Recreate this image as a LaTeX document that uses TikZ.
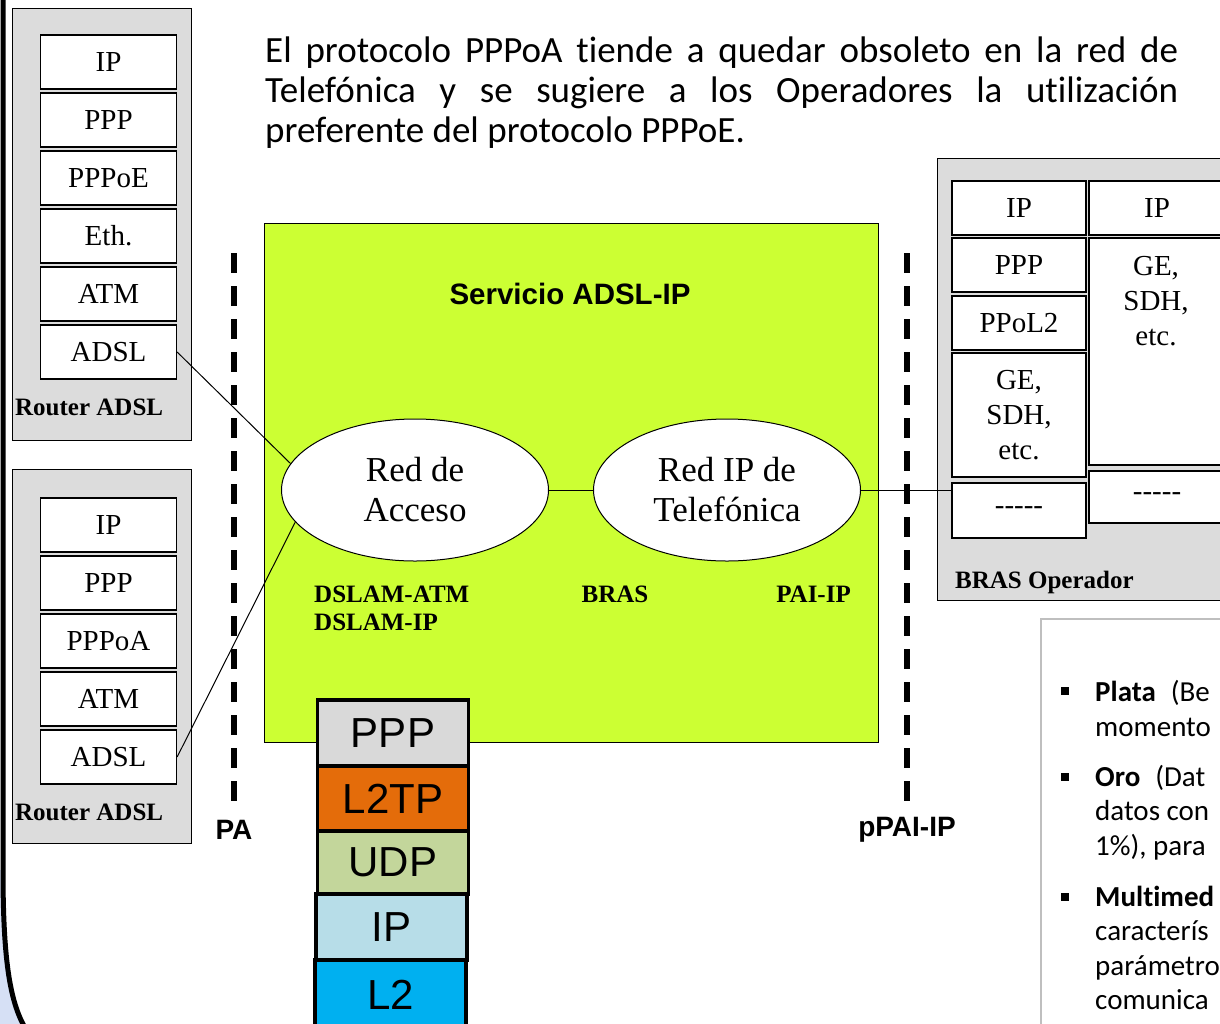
\documentclass[tikz,border=0pt]{standalone}
\usepackage{fontspec}
\setmainfont{Liberation Serif}
\setsansfont{Liberation Sans}
\newfontfamily\calibri[Ligatures=NoCommon]{Carlito}
\usetikzlibrary{shapes.geometric,positioning}
\definecolor{servgreen}{RGB}{204,255,51}
\definecolor{boxgray}{RGB}{220,220,220}
\definecolor{pppgray}{RGB}{217,217,217}
\definecolor{l2tporange}{RGB}{228,108,10}
\definecolor{udpgreen}{RGB}{195,214,155}
\definecolor{iplight}{RGB}{183,221,232}
\definecolor{l2blue}{RGB}{0,176,240}
\definecolor{framefill}{RGB}{214,224,245}
\newcommand{\setfs}[2]{\fontsize{#1}{#2}\selectfont}

\begin{document}
\begin{tikzpicture}[x=1pt,y=-1pt,
  layer/.style={draw,fill=white,line width=1.3pt,minimum width=136,minimum height=54,
                inner sep=0,font=\setfs{29}{35}},
  device/.style={draw,fill=boxgray,line width=1pt,inner sep=0},
  devlbl/.style={font=\bfseries\setfs{25}{28},anchor=base west,inner sep=0},
  cloud/.style={ellipse,draw,fill=white,line width=1pt,minimum width=267,minimum height=142,
                align=center,font=\setfs{35}{40}},
  zone/.style={font=\bfseries\setfs{25}{28},inner sep=0,align=left},
  stack/.style={draw,line width=3.5pt,minimum width=151,inner sep=0,font=\sffamily\setfs{42}{46}},
  pline/.style={line width=6pt,dash pattern=on 20pt off 13pt},
  plbl/.style={font=\sffamily\bfseries\setfs{28}{30},inner sep=0},
  wire/.style={line width=1pt},
  bullet/.style={fill=black,minimum size=8,inner sep=0},
  qtext/.style={font=\calibri\setfs{29}{34},anchor=base west,inner sep=0}
]
% page, clipped to the reference size
\fill[white] (0,0) rectangle (1220,1023);
\useasboundingbox (0,0) rectangle (1220,1023);
\clip (0,0) rectangle (1220,1023);
% slide frame on the left
\fill[framefill] (0,870) -- (3,870) .. controls (3,960) and (10,1000) .. (24,1026) -- (0,1026) -- cycle;
\draw[line width=5pt] (3,-5) -- (3,870) .. controls (3,960) and (10,1000) .. (24,1026);

% intro text
\node[font=\calibri\setfs{37}{40},text width=913pt,align=justify,inner sep=0,anchor=base west]
  (intro) at (265,62) {El protocolo PPPoA tiende a quedar obsoleto en la red de\linebreak
  Telefónica y se sugiere a los Operadores la utilización\linebreak
  preferente del protocolo PPPoE.};

% Servicio ADSL-IP area
\node[draw,fill=servgreen,line width=1pt,minimum width=614,minimum height=519,inner sep=0]
  (serv) at (571,482.5) {};
\node[font=\sffamily\bfseries\setfs{29.5}{32}] (servlbl) at (570,294) {Servicio ADSL-IP};

% Router ADSL (PPPoE)
\node[device,minimum width=179,minimum height=432] (rtrA) at (101.5,224) {};
\foreach \lbl [count=\i from 0] in {IP,PPP,PPPoE,Eth.,ATM,ADSL}
  \node[layer] (ra\i) at (108.5,62+58*\i) {\lbl};
\node[devlbl] (rtrAlbl) at (15,415) {Router ADSL};

% Router ADSL (PPPoA)
\node[device,minimum width=179,minimum height=374] (rtrB) at (101.5,656) {};
\foreach \lbl [count=\i from 0] in {IP,PPP,PPPoA,ATM,ADSL}
  \node[layer] (rb\i) at (108.5,525+58*\i) {\lbl};
\node[devlbl] (rtrBlbl) at (15,820) {Router ADSL};

% BRAS Operador
\node[device,minimum width=300,minimum height=442,anchor=north west] (bras) at (937,158) {};
\foreach \lbl/\yy [count=\i] in {IP/208,PPP/265,PPoL2/323}
  \node[layer,minimum width=134] (bl\i) at (1019,\yy) {\lbl};
\node[layer,minimum width=134,minimum height=124,align=center] (bl4) at (1019,415) {GE,\\SDH,\\etc.};
\node[layer,minimum width=134,minimum height=55] (bl5) at (1019,510.5) {-{}-{}-{}-{}-};
\node[layer,minimum width=136] (br1) at (1157,208) {IP};
\node[layer,minimum width=136,minimum height=227] (br2) at (1157,351.5) {};
\node[align=center,font=\setfs{29}{35}] (br2txt) at (1156,301) {GE,\\SDH,\\etc.};
\node[layer,minimum width=136,minimum height=52] (br3) at (1157,497) {-{}-{}-{}-{}-};
\node[devlbl] (braslbl) at (955,588) {BRAS Operador};

% networks
\node[cloud] (acceso) at (415,490) {Red de\\Acceso};
\node[cloud] (telef) at (727,490) {Red IP de\\Telefónica};
\node[zone,anchor=north west] (dslam) at (314,586) {DSLAM-ATM\\DSLAM-IP};
\node[zone] (brasz) at (615,594) {BRAS};
\node[zone,anchor=east] (paiip) at (851,594) {PAI-IP};

% interface points PA and pPAI-IP
\coordinate (paTop) at (234,253);
\coordinate (paBot) at (234,802);
\coordinate (ppaiTop) at (907,253);
\coordinate (ppaiBot) at (907,802);
\draw[pline] (paTop) -- (paBot);
\draw[pline] (ppaiTop) -- (ppaiBot);
\node[plbl] (palbl) at (234,830) {PA};
\node[plbl] (ppailbl) at (907,830) {pPAI-IP};

% links
\draw[wire] (ra5.east) -- (acceso.168);
\draw[wire] (rb4.east) -- (acceso.195);
\draw[wire] (acceso.east) -- (telef.west);
\draw[wire] (telef.east) -- (telef.east -| bl5.west);

% L2TP stack
\node[stack,fill=pppgray,minimum height=66] (sPPP) at (393,733) {PPP};
\node[stack,fill=l2tporange,minimum height=65] (sL2TP) at (393,798.5) {L2TP};
\node[stack,fill=udpgreen,minimum height=63] (sUDP) at (393,862.5) {UDP};
\node[stack,fill=iplight,minimum height=66] (sIP) at (391.5,927) {IP};
\node[stack,fill=l2blue,minimum height=70] (sL2) at (390.5,995) {L2};

% service classes (cut by the page edge)
\node[draw=gray!50,line width=2pt,fill=white,minimum width=200,minimum height=420,anchor=north west]
  (qos) at (1040,618) {};
\node[bullet] (b1) at (1065,691) {};
\node[bullet] (b2) at (1065,777) {};
\node[bullet] (b3) at (1065,897) {};
\node[qtext] (q1) at (1095,701) {\textbf{Plata}\hspace{15pt}(Be};
\node[qtext] (q2) at (1095,736) {momento};
\node[qtext] (q3) at (1095,786) {\textbf{Oro}\hspace{15pt}(Dat};
\node[qtext] (q4) at (1095,820) {datos con};
\node[qtext] (q5) at (1095,855) {1\%), para};
\node[qtext] (q6) at (1095,906) {\textbf{Multimed}};
\node[qtext] (q7) at (1095,940) {caracterís};
\node[qtext] (q8) at (1095,975) {parámetro};
\node[qtext] (q9) at (1095,1009) {comunica};
\end{tikzpicture}
\end{document}
